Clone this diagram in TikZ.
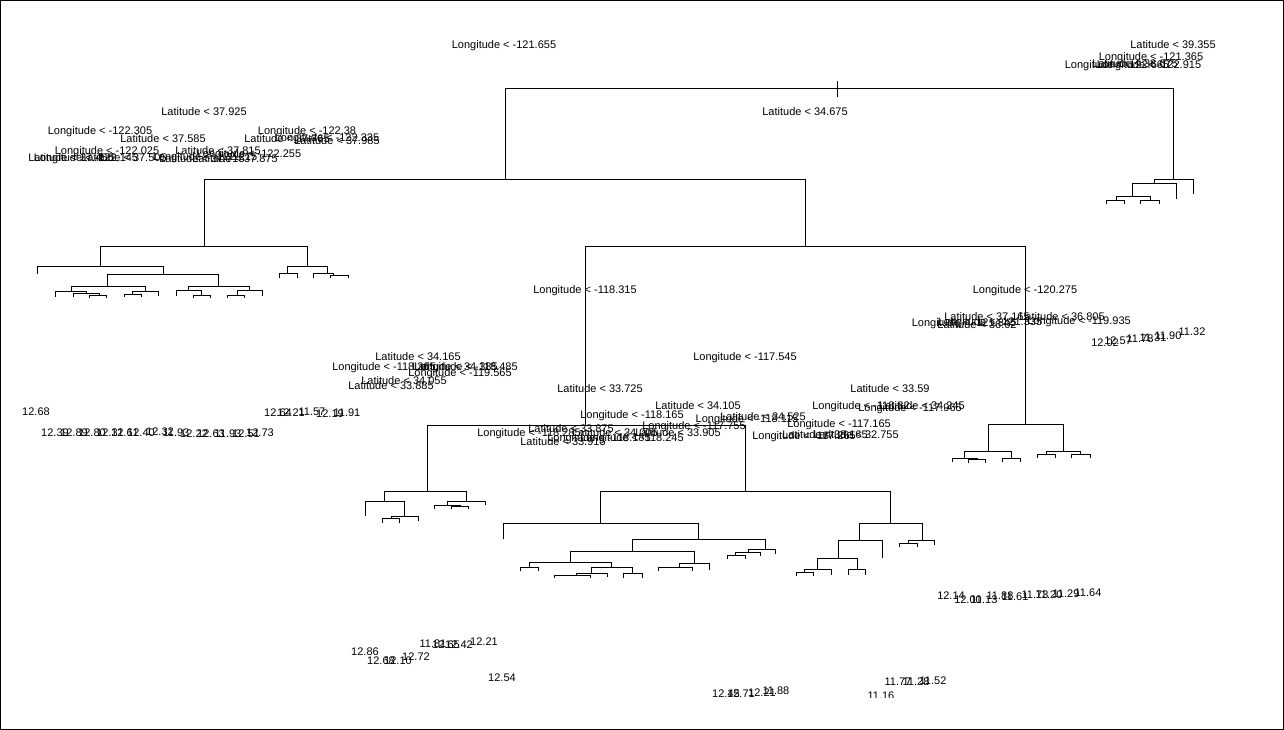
\documentclass[tikz,border=0pt]{standalone}
\usepackage{fontspec}
\setmainfont{Liberation Sans}
\begin{document}
\begin{tikzpicture}[x=1pt,y=-1pt,
  seg/.style={line width=1pt,black},
  lab/.style={inner sep=0pt,anchor=base,font=\fontsize{11}{12}\selectfont}]
\useasboundingbox (0,0) rectangle (1284,730);
\draw[line width=1pt] (0.5,0.5) rectangle (1283.5,729.5);
\newcommand{\tsplit}[6]{\draw[seg] (#3,#4) |- (#5,#2) -- (#5,#6);}
\newcommand{\lb}[3]{\node[lab] at (#1,#2+4) {#3};}
% root
\draw[seg] (837,81) -- (837,97);
\tsplit{837}{89}{505}{180}{1173}{180}
\tsplit{505}{180}{204}{246}{805}{246}
% left subtree
\tsplit{204}{246}{100}{266}{307}{266}
\tsplit{100}{266}{37}{274}{163}{274}
\tsplit{163}{274}{107}{286}{218}{286}
\tsplit{107}{286}{71}{291}{145}{291}
\tsplit{71}{291}{55}{297}{86}{293}
\tsplit{86}{293}{73}{297}{99}{295}
\tsplit{99}{295}{89}{298}{106}{298}
\tsplit{145}{291}{132}{294}{158}{296}
\tsplit{132}{294}{124}{297}{141}{297}
\tsplit{218}{286}{188}{290}{249}{290}
\tsplit{188}{290}{176}{296}{201}{295}
\tsplit{201}{295}{193}{298}{210}{298}
\tsplit{249}{290}{237}{295}{262}{296}
\tsplit{237}{295}{227}{298}{244}{298}
\tsplit{307}{266}{287}{273}{327}{273}
\tsplit{287}{273}{279}{278}{297}{278}
\tsplit{327}{273}{313}{278}{333}{275}
\tsplit{333}{275}{330}{278}{348}{278}
% middle subtree
\tsplit{805}{246}{585}{425}{1025}{424}
\tsplit{585}{425}{427}{491}{745}{491}
\tsplit{427}{491}{384}{501}{466}{501}
\tsplit{384}{501}{365}{516}{404}{516}
\tsplit{404}{516}{391}{518}{418}{521}
\tsplit{391}{518}{382}{523}{399}{523}
\tsplit{466}{501}{447}{505}{485}{505}
\tsplit{447}{505}{434}{509}{460}{506}
\tsplit{460}{506}{451}{509}{468}{509}
\tsplit{745}{491}{600}{523}{890}{523}
\tsplit{600}{523}{503}{539}{698}{539}
\tsplit{698}{539}{632}{551}{765}{549}
\tsplit{765}{549}{748}{552}{775}{554}
\tsplit{748}{552}{735}{555}{760}{556}
\tsplit{735}{555}{727}{559}{745}{559}
\tsplit{632}{551}{570}{562}{694}{563}
\tsplit{570}{562}{529}{567}{611}{567}
\tsplit{529}{567}{520}{571}{538}{571}
\tsplit{611}{567}{591}{573}{632}{573}
\tsplit{591}{573}{576}{575}{607}{577}
\tsplit{576}{575}{554}{578}{590}{578}
\tsplit{632}{573}{623}{578}{642}{578}
\tsplit{694}{563}{679}{567}{709}{570}
\tsplit{679}{567}{658}{571}{692}{571}
\tsplit{890}{523}{859}{540}{922}{540}
\tsplit{859}{540}{838}{558}{882}{558}
\tsplit{838}{558}{817}{569}{857}{569}
\tsplit{817}{569}{804}{572}{831}{575}
\tsplit{804}{572}{796}{576}{813}{576}
\tsplit{857}{569}{848}{575}{865}{575}
\tsplit{922}{540}{908}{543}{934}{545}
\tsplit{908}{543}{899}{547}{917}{547}
\tsplit{1025}{424}{988}{451}{1063}{451}
\tsplit{988}{451}{964}{458}{1011}{458}
\tsplit{964}{458}{952}{462}{977}{459}
\tsplit{977}{459}{968}{463}{985}{463}
\tsplit{1011}{458}{1002}{462}{1020}{462}
\tsplit{1063}{451}{1046}{454}{1080}{454}
\tsplit{1046}{454}{1037}{458}{1055}{458}
\tsplit{1080}{454}{1071}{458}{1090}{458}
% right subtree
\tsplit{1173}{180}{1154}{184}{1193}{194}
\tsplit{1154}{184}{1132}{197}{1176}{199}
\tsplit{1132}{197}{1116}{200}{1150}{200}
\tsplit{1116}{200}{1106}{204}{1124}{204}
\tsplit{1150}{200}{1140}{204}{1159}{204}
% labels
\begin{scope}
\clip (0,0) rectangle (1284,697);
\lb{504}{45}{Longitude < -121.655}
\lb{805}{112}{Latitude < 34.675}
\lb{1173}{45}{Latitude < 39.355}
\lb{1151}{57}{Longitude < -121.365}
\lb{1117}{65}{Longitude < -122.665}
\lb{1135}{64}{Latitude < 38.675}
\lb{1149}{65}{Longitude < -122.915}
\lb{204}{112}{Latitude < 37.925}
\lb{100}{131}{Longitude < -122.305}
\lb{163}{139}{Latitude < 37.585}
\lb{307}{131}{Longitude < -122.38}
\lb{287}{139}{Latitude < 37.765}
\lb{327}{138}{Longitude < -122.335}
\lb{337}{141}{Latitude < 37.985}
\lb{107}{151}{Longitude < -122.025}
\lb{218}{151}{Latitude < 37.815}
\lb{249}{154}{Longitude < -122.255}
\lb{71}{158}{Latitude < 37.455}
\lb{86}{158}{Longitude < -122.145}
\lb{124}{158}{Latitude < 37.505}
\lb{205}{157}{Longitude < -122.215}
\lb{202}{159}{Latitude < 37.715}
\lb{235}{159}{Latitude < 37.875}
\lb{585}{289}{Longitude < -118.315}
\lb{1025}{289}{Longitude < -120.275}
\lb{745}{356}{Longitude < -117.545}
\lb{987}{316}{Latitude < 37.165}
\lb{1062}{316}{Latitude < 36.805}
\lb{1079}{320}{Longitude < -119.935}
\lb{964}{322}{Longitude < -121.845}
\lb{990}{321}{Longitude < -121.335}
\lb{977}{324}{Latitude < 36.02}
\lb{1105}{342}{12.02}
\lb{1118}{340}{12.57}
\lb{1140}{338}{11.78}
\lb{1153}{337}{11.31}
\lb{1168}{335}{11.90}
\lb{1192}{331}{11.32}
\lb{418}{356}{Latitude < 34.165}
\lb{384}{366}{Longitude < -118.365}
\lb{455}{366}{Latitude < 34.385}
\lb{466}{366}{Longitude < -118.485}
\lb{460}{372}{Longitude < -119.565}
\lb{404}{380}{Latitude < 34.055}
\lb{391}{385}{Latitude < 33.885}
\lb{600}{388}{Latitude < 33.725}
\lb{890}{388}{Latitude < 33.59}
\lb{698}{405}{Latitude < 34.105}
\lb{632}{414}{Longitude < -118.165}
\lb{861}{405}{Longitude < -118.32}
\lb{910}{407}{Longitude < -117.965}
\lb{922}{405}{Latitude < 34.245}
\lb{839}{423}{Longitude < -117.165}
\lb{804}{435}{Longitude < -117.265}
\lb{856}{434}{Latitude < 32.755}
\lb{825}{434}{Latitude < 33.165}
\lb{763}{416}{Latitude < 34.525}
\lb{747}{418}{Longitude < -118.115}
\lb{694}{425}{Longitude < -117.755}
\lb{571}{428}{Latitude < 33.875}
\lb{529}{432}{Longitude < -118.285}
\lb{615}{432}{Latitude < 34.005}
\lb{678}{432}{Latitude < 33.905}
\lb{632}{437}{Longitude < -118.245}
\lb{599}{437}{Longitude < -118.185}
\lb{563}{441}{Latitude < 33.915}
% leaf values left
\lb{36}{411}{12.68}
\lb{55}{432}{12.39}
\lb{74}{432}{12.89}
\lb{92}{432}{12.80}
\lb{110}{432}{12.31}
\lb{125}{432}{12.61}
\lb{141}{432}{12.40}
\lb{160}{431}{12.32}
\lb{176}{432}{11.93}
\lb{194}{433}{12.22}
\lb{211}{433}{12.63}
\lb{228}{433}{11.93}
\lb{246}{433}{12.51}
\lb{260}{432}{12.73}
\lb{278}{412}{12.64}
\lb{291}{412}{12.21}
\lb{312}{411}{11.57}
\lb{330}{413}{12.19}
\lb{347}{412}{11.91}
% leaf values bottom
\lb{365}{651}{12.86}
\lb{381}{660}{12.68}
\lb{398}{660}{12.10}
\lb{416}{656}{12.72}
\lb{433}{643}{11.81}
\lb{446}{644}{12.65}
\lb{459}{644}{12.42}
\lb{484}{641}{12.21}
\lb{502}{677}{12.54}
\lb{726}{693}{12.45}
\lb{741}{693}{12.71}
\lb{762}{692}{12.21}
\lb{776}{690}{11.88}
\lb{898}{681}{11.77}
\lb{916}{681}{11.28}
\lb{933}{680}{11.52}
\lb{881}{695}{11.16}
\lb{951}{595}{12.14}
\lb{968}{599}{12.00}
\lb{984}{599}{11.13}
\lb{1000}{595}{11.88}
\lb{1015}{596}{11.61}
\lb{1035}{594}{11.73}
\lb{1049}{594}{11.20}
\lb{1066}{593}{11.29}
\lb{1088}{592}{11.64}
\end{scope}
\end{tikzpicture}
\end{document}
